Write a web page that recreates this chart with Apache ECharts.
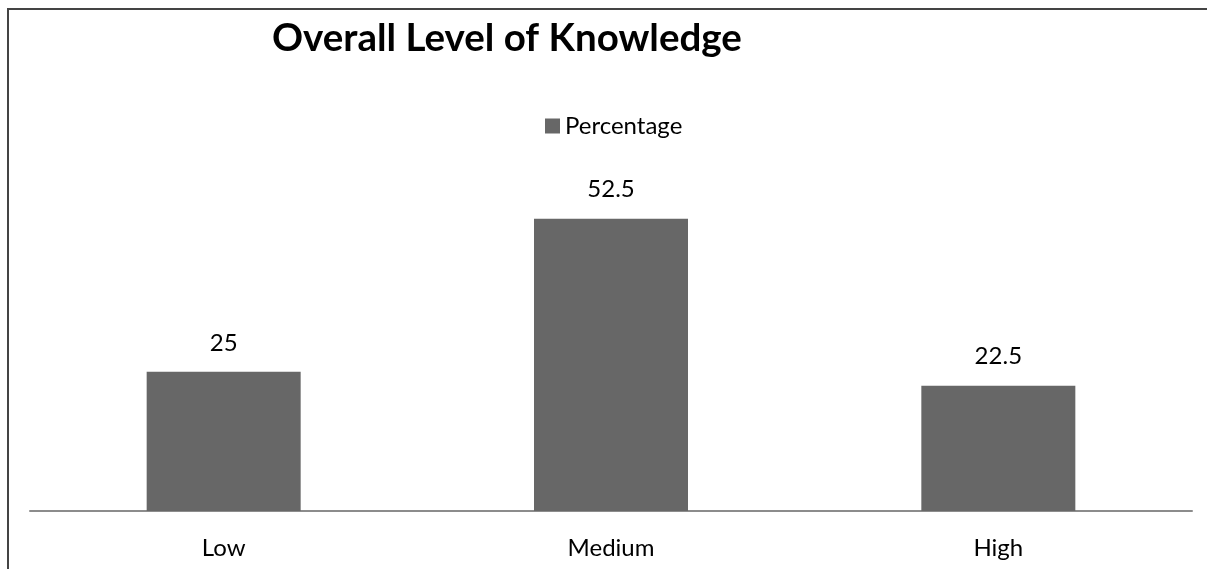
<!DOCTYPE html>
<html>
<head>
<meta charset="utf-8">
<script src="https://cdn.jsdelivr.net/npm/echarts@6/dist/echarts.min.js"></script>
<style>
    html, body { margin: 0; padding: 0; background: #ffffff; }
    #chart { width: 1207px; height: 569px; }
    #frame { position: absolute; left: 7px; top: 8px; right: 0; bottom: 0; border-left: 2px solid #444; border-top: 2px solid #444; pointer-events: none; }
</style>
</head>
<body>
<div id="chart"></div>
<div id="frame"></div>
<script>
const categories = ['Low', 'Medium', 'High']
const percentages = [25, 52.5, 22.5]
const seriesName = 'Percentage'

const myChart = echarts.init(document.getElementById('chart'))
const fontFamily = 'Lato'

const option = {
    animation: false,
    title: {
        text: 'Overall Level of Knowledge',
        left: 267,
        top: 14,
        textStyle: { fontFamily: fontFamily, fontWeight: 'bold', fontSize: 38.5, color: '#000000' }
    },
    legend: {
        data: [seriesName],
        left: 540,
        top: 109,
        icon: 'rect',
        itemWidth: 15,
        itemHeight: 15,
        itemGap: 8,
        textStyle: { fontFamily: fontFamily, fontSize: 24, color: '#000000' }
    },
    grid: { left: 30, right: 15, top: 177, bottom: 58 },
    xAxis: {
        type: 'category',
        data: categories,
        axisLine: { lineStyle: { color: '#8c8c8c', width: 2 } },
        axisTick: { show: false },
        axisLabel: { fontFamily: fontFamily, fontSize: 24, color: '#000000', margin: 25 }
    },
    yAxis: {
        type: 'value',
        min: 0,
        max: 60,
        show: false,
        splitLine: { show: false }
    },
    series: [{
        name: seriesName,
        type: 'bar',
        data: percentages,
        barWidth: 154,
        itemStyle: { color: '#676767' },
        label: {
            show: true,
            position: 'top',
            distance: 17,
            fontFamily: fontFamily,
            fontSize: 24,
            color: '#000000'
        }
    }]
}
myChart.setOption(option)
</script>
</body>
</html>
